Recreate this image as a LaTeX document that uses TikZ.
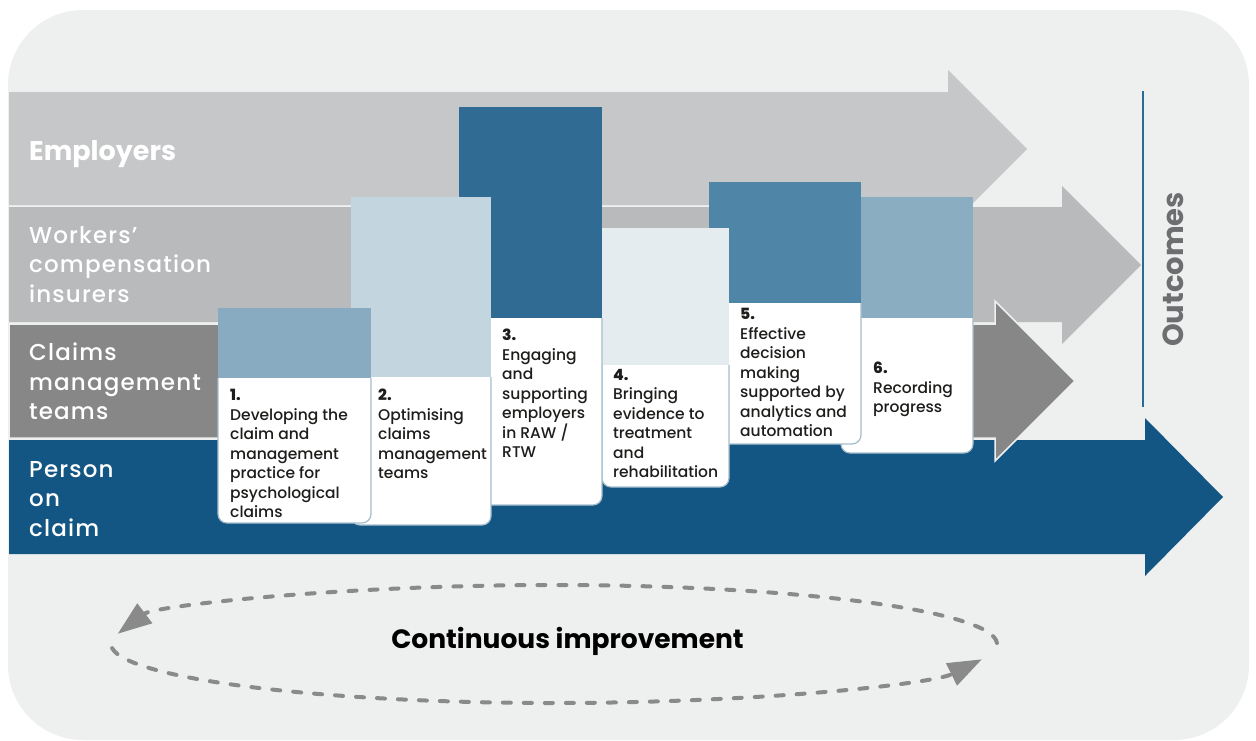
\documentclass[tikz,border=0pt]{standalone}
\usepackage{fontspec}
\setmainfont{Poppins}
\newfontfamily\medfont{Poppins Medium}
\usepackage{xcolor}
\usetikzlibrary{calc}
\usetikzlibrary{arrows.meta}
\definecolor{bggray}{HTML}{EEEFEF}
\definecolor{bandA}{HTML}{C6C7C9}
\definecolor{bandB}{HTML}{B9BABC}
\definecolor{bandC}{HTML}{878787}
\definecolor{bandD}{HTML}{135683}
\definecolor{cardA}{HTML}{89ABC2}
\definecolor{cardB}{HTML}{C3D6E0}
\definecolor{cardC}{HTML}{2F6B92}
\definecolor{cardD}{HTML}{E5ECF0}
\definecolor{cardE}{HTML}{4F86A8}
\definecolor{cardF}{HTML}{8AADC2}
\definecolor{cardedge}{HTML}{A3BDCD}
\definecolor{inkblack}{HTML}{1D1D1B}
\definecolor{dashgray}{HTML}{8A8A8A}
\definecolor{outblue}{HTML}{2A6A96}
\definecolor{outgray}{HTML}{6D6E70}
\tikzstyle{bandlabel} = [text=white, anchor=north west, align=left, inner sep=0pt,
font=\medfont\fontsize{23}{29.5}\selectfont\addfontfeatures{LetterSpace=5}]
\tikzstyle{steptext} = [text=inkblack, anchor=north west, align=left, inner sep=0pt,
font=\medfont\fontsize{15.5}{19.5}\selectfont]
\tikzstyle{cardline} = [draw=cardedge, line width=1.2pt, fill=white, rounded corners=9pt]
\tikzstyle{cycleline} = [draw=dashgray, line width=4pt, line cap=round, dash pattern=on 8pt off 13pt,
-{Triangle[length=34pt,width=24pt]}]
\newcommand{\stepcard}[6]{%
\fill[#6] (#1,#3) rectangle (#2,#4);
\path[cardline] (#1,#4) -- (#1,#5) -- (#2,#5) -- (#2,#4);
}

\begin{document}
\begin{tikzpicture}[x=1pt, y=-1pt]
        \useasboundingbox (0,0) rectangle (1256,740);
        \fill[bggray, rounded corners=75pt] (8,10) rectangle (1249,740);
        % the four bands
        \fill[bandA] (9,92) -- (948,92) -- (948,70) -- (1027,149) -- (948,228) -- (948,205) -- (9,205) -- cycle;
        \fill[bandB] (9,207) -- (1062,207) -- (1062,186) -- (1141,265) -- (1062,344) -- (1062,322) -- (9,322) -- cycle;
        \fill[bandD] (9,440) -- (1145,440) -- (1145,418) -- (1223,497) -- (1145,576) -- (1145,554) -- (9,554) -- cycle;
        \filldraw[fill=bandC, draw=bggray, line width=1.5pt] (9,324) -- (995,324) -- (995,301) -- (1075,381) -- (995,461) -- (995,438) -- (9,438) -- cycle;
        % cards, back to front
        \stepcard{841}{973}{197}{318}{453}{cardF}
        \stepcard{709}{861}{182}{303}{444}{cardE}
        \stepcard{602}{729}{228}{365}{487}{cardD}
        \stepcard{459}{602}{107}{318}{505}{cardC}
        \stepcard{351}{491}{197}{377}{525}{cardB}
        \stepcard{218}{371}{308}{378}{523}{cardA}
        \node[steptext] (s1) at (230,389) {\textbf{1.}\\Developing the\\claim and\\management\\practice for\\psychological\\claims};
        \node[steptext] (s2) at (378,389) {\textbf{2.}\\Optimising\\claims\\management\\teams};
        \node[steptext] (s3) at (502,329) {\textbf{3.}\\Engaging\\and\\supporting\\employers\\in RAW /\\RTW};
        \node[steptext] (s4) at (613,369) {\textbf{4.}\\Bringing\\evidence to\\treatment\\and\\rehabilitation};
        \node[steptext] (s5) at (740,308) {\textbf{5.}\\Effective\\decision\\making\\supported by\\analytics and\\automation};
        \node[steptext] (s6) at (873,362) {\textbf{6.}\\Recording\\progress};
        % band names
        \node[text=white, anchor=base west, inner sep=0pt, font=\bfseries\fontsize{27}{30}\selectfont] (employers) at (29,160) {Employers};
        \node[bandlabel] (insurers) at (29,226) {Workers’\\compensation\\insurers};
        \node[bandlabel] (claimteams) at (29,343) {Claims\\management\\teams};
        \node[bandlabel] (person) at (29,461) {Person\\on\\claim};
        % outcomes
        \coordinate (otop) at (1143,91);
        \coordinate (obot) at (1143,407);
        \draw[outblue, line width=1.5pt] (otop) -- (obot);
        \node[text=outgray, rotate=90, anchor=base, inner sep=0pt, font=\bfseries\fontsize{29}{32}\selectfont] (outcomes) at (1183,269.5) {Outcomes};
        % improvement cycle
        \coordinate (ic) at (554,644);
        \draw[cycleline] (ic) ++(-1:443 and 59) arc[start angle=-1, end angle=-170, x radius=443, y radius=59];
        \draw[cycleline] (ic) ++(176:443 and 59) arc[start angle=176, end angle=15, x radius=443, y radius=59];
        \node[text=black, anchor=base, inner sep=0pt, font=\bfseries\fontsize{26.5}{30}\selectfont] (improve) at (567.5,648) {Continuous improvement};
    \end{tikzpicture}
\end{document}
